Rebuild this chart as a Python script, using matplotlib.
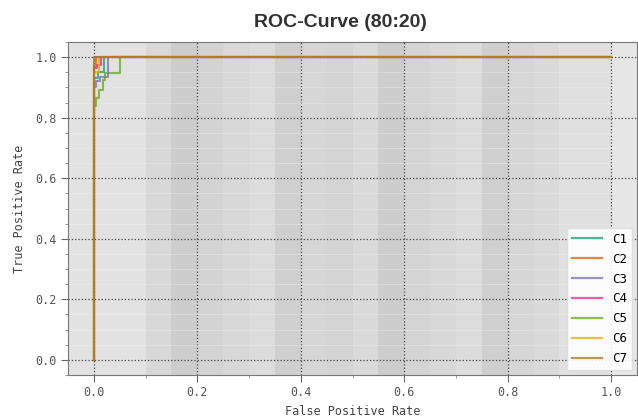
import matplotlib

matplotlib.use("Agg")
import matplotlib.pyplot as plt
from matplotlib.ticker import MultipleLocator

plt.rcParams["font.family"] = ["DejaVu Sans Mono"]

# 곡선별 (FPR, TPR) 꼭짓점 — 그림에서 읽은 값
CLASSES = ["C1", "C2", "C3", "C4", "C5", "C6", "C7"]
COLORS = ["#1b9e77", "#d95f02", "#7570b3", "#e7298a", "#66a61e", "#e6ab02", "#a6761d"]
FPR = {
    "C1": [0.0, 0.0, 0.008, 0.008, 0.02, 0.02, 1.0],
    "C2": [0.0, 0.0, 0.004, 0.004, 1.0],
    "C3": [0.0, 0.0, 0.005, 0.005, 0.012, 0.012, 0.028, 0.028, 1.0],
    "C4": [0.0, 0.0, 0.006, 0.006, 0.014, 0.014, 1.0],
    "C5": [0.0, 0.0, 0.005, 0.005, 0.01, 0.01, 0.017, 0.017, 0.021, 0.021, 0.05, 0.05, 1.0],
    "C6": [0.0, 0.0, 0.01, 0.01, 1.0],
    "C7": [0.0, 0.0, 1.0],
}
TPR = {
    "C1": [0.0, 0.93, 0.93, 0.95, 0.95, 1.0, 1.0],
    "C2": [0.0, 0.97, 0.97, 1.0, 1.0],
    "C3": [0.0, 0.9, 0.9, 0.92, 0.92, 0.935, 0.935, 1.0, 1.0],
    "C4": [0.0, 0.963, 0.963, 0.975, 0.975, 1.0, 1.0],
    "C5": [0.0, 0.84, 0.84, 0.865, 0.865, 0.89, 0.89, 0.925, 0.925, 0.946, 0.946, 1.0, 1.0],
    "C6": [0.0, 0.95, 0.95, 1.0, 1.0],
    "C7": [0.0, 1.0, 1.0],
}

# 배경 세로 띠 (0.05 간격 경계, 회색 농도)
BAND_EDGES = [-0.05, 0.10, 0.15, 0.20, 0.25, 0.30, 0.35, 0.40, 0.45, 0.50,
              0.55, 0.60, 0.65, 0.70, 0.75, 0.80, 0.85, 0.90, 1.00, 1.05]
BAND_GREYS = ["#e2e2e2", "#d8d8d8", "#cdcdcd", "#d3d3d3", "#d8d8d8", "#dcdcdc",
              "#cfcfcf", "#d6d6d6", "#d4d4d4", "#dadada", "#cdcdcd", "#d4d4d4",
              "#d8d8d8", "#dcdcdc", "#cfcfcf", "#d6d6d6", "#dadada", "#e0e0e0", "#e6e6e6"]

fig = plt.figure(figsize=(6.38, 4.19), dpi=100)
ax = fig.add_axes([68 / 638, 1 - 375 / 419, 569 / 638, 333 / 419])

for i, g in enumerate(BAND_GREYS):
    ax.axvspan(BAND_EDGES[i], BAND_EDGES[i + 1], color=g, lw=0, zorder=0)

for c, col in zip(CLASSES, COLORS):
    ax.plot(FPR[c], TPR[c], color=col, lw=1.5, alpha=0.75, label=c, zorder=3)

ax.set_xlim(-0.05, 1.05)
ax.set_ylim(-0.05, 1.05)
ax.xaxis.set_major_locator(MultipleLocator(0.2))
ax.yaxis.set_major_locator(MultipleLocator(0.2))
ax.xaxis.set_minor_locator(MultipleLocator(0.1))
ax.yaxis.set_minor_locator(MultipleLocator(0.05))
ax.grid(which="major", linestyle=":", color="#444444", lw=0.9, zorder=1)
ax.grid(which="minor", axis="y", linestyle="-", color="#ececec", lw=0.5, alpha=0.6, zorder=1)
ax.set_axisbelow(True)
for s in ax.spines.values():
    s.set_color("#777777")
ax.tick_params(which="major", direction="out", length=5, color="#666666",
               labelcolor="#555555", labelsize=8.5, pad=3)
ax.tick_params(which="minor", direction="out", length=2.5, color="#888888")

ax.set_xlabel("False Positive Rate", fontsize=8.5, color="#444444", labelpad=4)
ax.set_ylabel("True Positive Rate", fontsize=8.5, color="#444444", labelpad=7)
ax.set_title("ROC-Curve (80:20)", family="Liberation Sans", fontweight="bold",
             fontsize=14, color="#333333", x=(340.5 - 68) / 569, pad=11)

leg = ax.legend(loc="lower right", fontsize=9, frameon=True, fancybox=False,
                borderaxespad=0.4, handlelength=2.4, labelspacing=0.55)
leg.get_frame().set_facecolor("white")
leg.get_frame().set_edgecolor("#dddddd")
leg.get_frame().set_alpha(0.9)
for h in leg.get_lines():
    h.set_linewidth(1.6)

fig.savefig("out.png", dpi=100)
